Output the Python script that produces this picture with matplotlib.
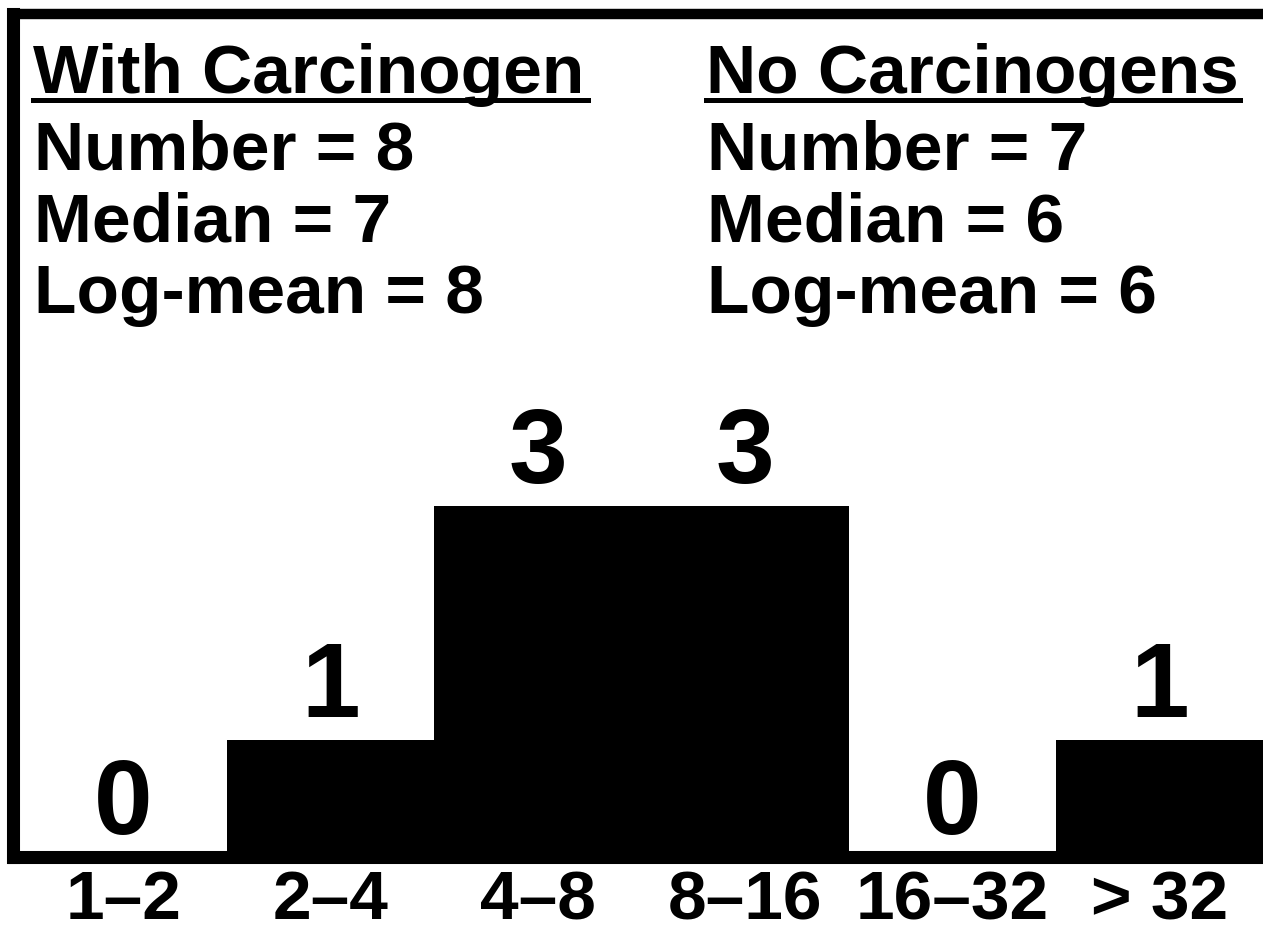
import matplotlib
matplotlib.use("Agg")
import matplotlib.pyplot as plt
from matplotlib.lines import Line2D

# ---- data ----
bins = ["1\u20132", "2\u20134", "4\u20138", "8\u201316", "16\u201332", "> 32"]
counts = [0, 1, 3, 3, 0, 1]

left_title = "With Carcinogen"
left_stats = ["Number = 8", "Median = 7", "Log-mean = 8"]
right_title = "No Carcinogens"
right_stats = ["Number = 7", "Median = 6", "Log-mean = 6"]

# ---- figure ----
W, H, DPI = 1263, 929, 100
plt.rcParams['font.family'] = ['Liberation Sans', 'DejaVu Sans']
plt.rcParams['font.weight'] = 'bold'
fig = plt.figure(figsize=(W / DPI, H / DPI), dpi=DPI)
fig.patch.set_facecolor('white')

def fx(px):
    return px / W

def fy(py):
    return 1 - py / H

ax_left, ax_right, ax_top, ax_bot = 13.5, 1263, 14.5, 858
ax = fig.add_axes([fx(ax_left), fy(ax_bot), fx(ax_right - ax_left), (ax_bot - ax_top) / H])
ax.set_facecolor('white')

unit_px = 117.0
x = list(range(len(bins)))
ax.bar(x, counts, width=1.0, color='black', edgecolor='black', linewidth=0, zorder=1)

# x extents: bar area starts at pixel 20
px_per_cat = (1263 - 20) / 6.0
ax.set_xlim(-0.5 - (20 - ax_left) / px_per_cat, 5.5)
ax.set_ylim(0, (ax_bot - ax_top) / unit_px)

# value labels
for xi, c in zip(x, counts):
    ax.annotate(str(c), (xi, c), xytext=(0, 17), textcoords='offset points',
                ha='center', va='baseline', fontsize=76, fontweight='bold', color='black')

ax.set_xticks(x)
ax.set_xticklabels(bins, fontsize=50, fontweight='bold')
ax.tick_params(axis='x', length=0, pad=8)
ax.set_yticks([])

for side in ['left', 'bottom']:
    ax.spines[side].set_linewidth(9.4)
    ax.spines[side].set_color('black')
ax.spines['top'].set_linewidth(7.5)
ax.spines['top'].set_color('black')
ax.spines['right'].set_visible(False)

# header text blocks
baselines = [93, 170, 242, 313]
for x0, title, stats, ul_end in [(33, left_title, left_stats, 588),
                                 (706, right_title, right_stats, 1240)]:
    fig.text(fx(x0), fy(baselines[0]), title, fontsize=50, fontweight='bold',
             ha='left', va='baseline')
    fig.add_artist(Line2D([fx(x0), fx(ul_end)], [fy(101), fy(101)],
                          transform=fig.transFigure, color='black', linewidth=3.6))
    for b, s in zip(baselines[1:], stats):
        fig.text(fx(x0 + 1), fy(b), s, fontsize=50, fontweight='bold',
                 ha='left', va='baseline')

fig.savefig('out.png', dpi=DPI, facecolor='white')
